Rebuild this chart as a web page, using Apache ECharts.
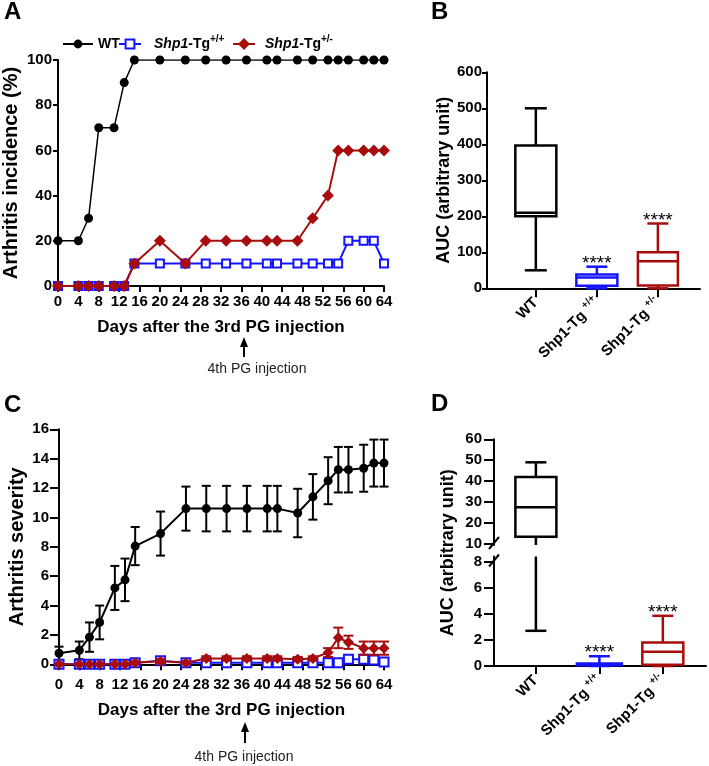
<!DOCTYPE html>
<html><head><meta charset="utf-8">
<script src="https://cdn.jsdelivr.net/npm/echarts@6/dist/echarts.min.js"></script>
<style>html,body{margin:0;padding:0;background:#fff}#c{width:709px;height:766px}</style>
</head><body><div id="c"></div>
<script>
// ---------- data ----------
const days = [0,4,6,8,11,13,15,20,25,29,33,37,41,43,47,50,53,55,57,60,62,64];
// Panel A: arthritis incidence (%)
const wtIncidence      = [20,20,30,70,70,90,100,100,100,100,100,100,100,100,100,100,100,100,100,100,100,100];
const tgHomoIncidence  = [0,0,0,0,0,0,10,10,10,10,10,10,10,10,10,10,10,10,20,20,20,10];
const tgHetIncidence   = [0,0,0,0,0,0,10,20,10,20,20,20,20,20,20,30,40,60,60,60,60,60];
// Panel C: arthritis severity (mean, error)
const wtSeverity     = [0.75,0.95,1.85,2.85,5.2,5.75,8.05,8.9,10.6,10.6,10.6,10.6,10.6,10.6,10.3,11.4,12.5,13.25,13.25,13.35,13.7,13.7];
const wtSeverityErr  = [0.45,0.6,1.0,1.15,1.5,1.45,1.3,1.5,1.5,1.55,1.55,1.55,1.55,1.55,1.65,1.55,1.6,1.55,1.55,1.6,1.6,1.6];
const hetSeverity    = [0,0,0,0,0,0,0.1,0.2,0.1,0.4,0.4,0.4,0.4,0.4,0.35,0.4,0.8,1.8,1.5,1.1,1.1,1.1];
const hetSeverityErr = [0,0,0,0,0,0,0.1,0.15,0.1,0.15,0.15,0.15,0.15,0.15,0.15,0.15,0.3,0.7,0.45,0.45,0.45,0.45];
const homoSeverity   = [0,0,0,0,0,0,0.1,0.25,0.1,0.1,0.1,0.1,0.1,0.1,0.1,0.1,0.1,0.1,0.35,0.35,0.3,0.15];
const homoSeverityErr= [0,0,0,0,0,0,0.1,0.15,0.1,0.1,0.1,0.1,0.1,0.1,0.1,0.1,0.1,0.1,0.2,0.2,0.2,0.1];
// Panels B and D: box plots [min, Q1, median, Q3, max]
const groupLabels = ['WT', 'Shp1-Tg +/+', 'Shp1-Tg +/-'];
const aucIncidenceWT   = [50, 200, 210, 397, 500];
const aucIncidenceHomo = [0, 7, 30, 38, 60];
const aucIncidenceHet  = [0, 8, 75, 100, 180];
const aucSeverityWT    = [2.7, 13.5, 27.5, 42, 49];
const aucSeverityHomo  = [0, 0.05, 0.1, 0.2, 0.75];
const aucSeverityHet   = [0, 0.1, 1.1, 1.8, 3.85];
const sigMarks = ['', '****', '****'];
const breakLowerTicks = [0, 2, 4, 6, 8];
const breakUpperTicks = [10, 20, 30, 40, 50, 60];

// ---------- style ----------
const FONT = '"Liberation Sans", Arial, sans-serif';
const BLACK = '#000000', BLUE = '#1414ff', RED = '#a80d0d';
const chart = echarts.init(document.getElementById('c'), null, {renderer: 'canvas'});

const lbl = {color: BLACK, fontSize: 15, fontWeight: 'bold', fontFamily: FONT};
const axLine = {show: true, onZero: false, lineStyle: {color: BLACK, width: 2}};
const tick = (len) => ({show: true, inside: false, length: len, lineStyle: {color: BLACK, width: 2}});
const nameStyle = (sz) => ({color: BLACK, fontSize: sz, fontWeight: 'bold', fontFamily: FONT});

const richX = {
  b: {fontSize: 15, fontWeight: 'bold', fontFamily: FONT, color: BLACK, lineHeight: 20},
  s: {fontSize: 10, fontWeight: 'bold', fontFamily: FONT, color: BLACK, lineHeight: 10, verticalAlign: 'top'}
};
function catFormatter(v) {
  const t = groupLabels[Math.round(v)];
  if (t === undefined) return '';
  const parts = t.split(' ');
  return parts.length > 1 ? '{b|' + parts[0] + ' }{s|' + parts[1] + '}' : '{b|' + t + '}';
}

function boxRenderer(color, boxW, capW, marks) {
  return function (params, api) {
    const cs = params.coordSys;
    const top = cs.y, bot = cs.y + cs.height;
    const xi = api.value(0);
    const cx = api.coord([xi, 0])[0];
    const ys = [1, 2, 3, 4, 5].map(k => api.coord([xi, api.value(k)])[1]);
    const yMin = ys[0], yQ1 = ys[1], yMed = ys[2], yQ3 = ys[3], yMax = ys[4];
    const clamp = v => Math.max(top, Math.min(bot, v));
    const inR = v => v >= top - 0.5 && v <= bot + 0.5;
    const st = {stroke: color, lineWidth: 2.5, fill: null};
    const ch = [];
    const seg = (a, b) => {
      const ca = clamp(a), cb = clamp(b);
      if (Math.abs(ca - cb) > 0.5) ch.push({type: 'line', shape: {x1: cx, y1: ca, x2: cx, y2: cb}, style: st});
    };
    seg(yQ3, yMax); seg(yQ1, yMin);
    if (inR(yMax)) ch.push({type: 'line', shape: {x1: cx - capW / 2, y1: yMax, x2: cx + capW / 2, y2: yMax}, style: st});
    if (inR(yMin)) ch.push({type: 'line', shape: {x1: cx - capW / 2, y1: yMin, x2: cx + capW / 2, y2: yMin}, style: st});
    const bt = clamp(yQ3), bb = clamp(yQ1);
    if (bb - bt > 0.5) ch.push({type: 'rect', shape: {x: cx - boxW / 2, y: bt, width: boxW, height: bb - bt}, style: {stroke: color, lineWidth: 2.5, fill: '#ffffff'}});
    if (inR(yMed) && bb - bt > 0.5) ch.push({type: 'line', shape: {x1: cx - boxW / 2, y1: yMed, x2: cx + boxW / 2, y2: yMed}, style: st});
    const m = marks[Math.round(xi)];
    if (m && inR(yMax)) ch.push({type: 'text', style: {text: m, x: cx, y: yMax - 3, align: 'center', verticalAlign: 'middle', fontSize: 19, fontFamily: FONT, fill: BLACK}});
    return {type: 'group', children: ch};
  };
}
function errRenderer(color, half, lw) {
  return function (params, api) {
    const x = api.value(0), m = api.value(1), e = api.value(2);
    if (!(e > 0)) return null;
    const hi = api.coord([x, m + e]), lo = api.coord([x, m - e]);
    const st = {stroke: color, lineWidth: lw, fill: null};
    return {type: 'group', children: [
      {type: 'line', shape: {x1: hi[0], y1: hi[1], x2: lo[0], y2: lo[1]}, style: st},
      {type: 'line', shape: {x1: hi[0] - half, y1: hi[1], x2: hi[0] + half, y2: hi[1]}, style: st},
      {type: 'line', shape: {x1: lo[0] - half, y1: lo[1], x2: lo[0] + half, y2: lo[1]}, style: st}
    ]};
  };
}
const pairs = (ys) => days.map((d, i) => [d, ys[i]]);
const triples = (ys, es) => days.map((d, i) => [d, ys[i], es[i]]);

const richLegend = {
  i: {fontSize: 14, fontWeight: 'bold', fontStyle: 'italic', fontFamily: FONT, color: BLACK, lineHeight: 20},
  b: {fontSize: 14, fontWeight: 'bold', fontFamily: FONT, color: BLACK, lineHeight: 20},
  s: {fontSize: 10, fontWeight: 'bold', fontFamily: FONT, color: BLACK, lineHeight: 10, verticalAlign: 'top'}
};
function legendFmt(name) {
  if (name === 'WT') return '{b|WT}';
  const sup = name.slice(name.indexOf('Tg') + 2);
  return '{i|Shp1}{b|-Tg}{s|' + sup + '}';
}
const legendBase = (name, left, w, h, padLeft) => ({
  data: [name], left: left, top: 34, itemWidth: w, itemHeight: h, padding: 0, itemGap: 0,
  selectedMode: false, formatter: legendFmt,
  textStyle: {fontSize: 14, fontWeight: 'bold', fontFamily: FONT, color: BLACK, lineHeight: 20,
    padding: [0, 0, 0, padLeft], rich: richLegend}
});

const boxData = (arr, i) => [[i].concat(arr)];

const option = {
  animation: false,
  textStyle: {fontFamily: FONT},
  legend: [
    legendBase('WT', 62, 30, 11, 0),
    legendBase('Shp1-Tg+/+', 118, 22, 11, 8),
    legendBase('Shp1-Tg+/-', 232, 22, 15, 5)
  ],
  grid: [
    {left: 58, top: 60, width: 326, height: 226, outerBoundsMode: 'none'},
    {left: 487, top: 72.3, width: 213, height: 216, outerBoundsMode: 'none'},
    {left: 59, top: 429.3, width: 325, height: 235, outerBoundsMode: 'none'},
    {left: 494, top: 439.3, width: 212, height: 105.7, outerBoundsMode: 'none'},
    {left: 494, top: 556.5, width: 212, height: 109.5, outerBoundsMode: 'none'}
  ],
  xAxis: [
    {type: 'value', gridIndex: 0, min: 0, max: 64, interval: 4, axisLine: axLine, axisTick: tick(6),
     axisLabel: Object.assign({margin: 8}, lbl), splitLine: {show: false},
     name: 'Days after the 3rd PG injection', nameLocation: 'middle', nameGap: 33, nameTextStyle: nameStyle(17)},
    {type: 'value', gridIndex: 1, min: -0.8, max: 2.69, axisLine: axLine,
     axisTick: Object.assign(tick(9), {customValues: [0, 1, 2]}),
     axisLabel: Object.assign({margin: 12, rotate: 45, customValues: [0, 1, 2], formatter: catFormatter, rich: richX}, lbl),
     splitLine: {show: false}},
    {type: 'value', gridIndex: 2, min: 0, max: 64, interval: 4, axisLine: axLine, axisTick: tick(6),
     axisLabel: Object.assign({margin: 13}, lbl), splitLine: {show: false},
     name: 'Days after the 3rd PG injection', nameLocation: 'middle', nameGap: 38, nameTextStyle: nameStyle(17)},
    {type: 'value', gridIndex: 3, min: -0.66, max: 2.68, show: false, splitLine: {show: false}},
    {type: 'value', gridIndex: 4, min: -0.66, max: 2.68, axisLine: axLine,
     axisTick: Object.assign(tick(8), {customValues: [0, 1, 2]}),
     axisLabel: Object.assign({margin: 12, rotate: 45, customValues: [0, 1, 2], formatter: catFormatter, rich: richX}, lbl),
     splitLine: {show: false}}
  ],
  yAxis: [
    {type: 'value', gridIndex: 0, min: 0, max: 100, interval: 20, axisLine: axLine, axisTick: tick(5),
     axisLabel: Object.assign({margin: 6}, lbl), splitLine: {show: false},
     name: 'Arthritis incidence (%)', nameLocation: 'middle', nameGap: 37, nameTextStyle: nameStyle(20)},
    {type: 'value', gridIndex: 1, min: 0, max: 600, interval: 100, axisLine: axLine, axisTick: tick(5),
     axisLabel: Object.assign({margin: 5}, lbl), splitLine: {show: false},
     name: 'AUC (arbitrary unit)', nameLocation: 'middle', nameGap: 30, nameTextStyle: nameStyle(18)},
    {type: 'value', gridIndex: 2, min: 0, max: 16, interval: 2, axisLine: axLine, axisTick: tick(9),
     axisLabel: Object.assign({margin: 10}, lbl), splitLine: {show: false},
     name: 'Arthritis severity', nameLocation: 'middle', nameGap: 32, nameTextStyle: nameStyle(20)},
    {type: 'value', gridIndex: 3, min: 9.5, max: 60, axisLine: axLine,
     axisTick: Object.assign(tick(10), {customValues: breakUpperTicks}),
     axisLabel: Object.assign({margin: 12, customValues: breakUpperTicks}, lbl), splitLine: {show: false}},
    {type: 'value', gridIndex: 4, min: 0, max: 8.4, axisLine: axLine,
     axisTick: Object.assign(tick(10), {customValues: breakLowerTicks}),
     axisLabel: Object.assign({margin: 12, customValues: breakLowerTicks}, lbl), splitLine: {show: false}}
  ],
  series: [
    // Panel A
    {type: 'line', name: 'WT', xAxisIndex: 0, yAxisIndex: 0, data: pairs(wtIncidence), symbol: 'circle', symbolSize: 9,
     lineStyle: {color: BLACK, width: 1.5}, itemStyle: {color: BLACK}, z: 2},
    {type: 'line', name: 'Shp1-Tg+/+', xAxisIndex: 0, yAxisIndex: 0, data: pairs(tgHomoIncidence), symbol: 'rect', symbolSize: 8,
     lineStyle: {color: BLUE, width: 2}, itemStyle: {color: '#ffffff', borderColor: BLUE, borderWidth: 2}, z: 3},
    {type: 'line', name: 'Shp1-Tg+/-', xAxisIndex: 0, yAxisIndex: 0, data: pairs(tgHetIncidence), symbol: 'diamond', symbolSize: 12,
     lineStyle: {color: RED, width: 2}, itemStyle: {color: RED}, z: 4},
    // Panel C
    {type: 'custom', xAxisIndex: 2, yAxisIndex: 2, data: triples(wtSeverity, wtSeverityErr), encode: {x: 0, y: 1},
     renderItem: errRenderer(BLACK, 4.5, 2), z: 2, silent: true},
    {type: 'line', name: 'WT', xAxisIndex: 2, yAxisIndex: 2, data: pairs(wtSeverity), symbol: 'circle', symbolSize: 9,
     lineStyle: {color: BLACK, width: 2}, itemStyle: {color: BLACK}, z: 2},
    {type: 'custom', xAxisIndex: 2, yAxisIndex: 2, data: triples(homoSeverity, homoSeverityErr), encode: {x: 0, y: 1},
     renderItem: errRenderer(BLUE, 4.5, 2), z: 3, silent: true},
    {type: 'line', name: 'Shp1-Tg+/+', xAxisIndex: 2, yAxisIndex: 2, data: pairs(homoSeverity), symbol: 'rect', symbolSize: 9,
     lineStyle: {color: BLUE, width: 2}, itemStyle: {color: '#ffffff', borderColor: BLUE, borderWidth: 2}, z: 3},
    {type: 'custom', xAxisIndex: 2, yAxisIndex: 2, data: triples(hetSeverity, hetSeverityErr), encode: {x: 0, y: 1},
     renderItem: errRenderer(RED, 5, 2), z: 4, silent: true},
    {type: 'line', name: 'Shp1-Tg+/-', xAxisIndex: 2, yAxisIndex: 2, data: pairs(hetSeverity), symbol: 'diamond', symbolSize: 11,
     lineStyle: {color: RED, width: 2}, itemStyle: {color: RED}, z: 4},
    // Panel B
    {type: 'custom', xAxisIndex: 1, yAxisIndex: 1, data: boxData(aucIncidenceWT, 0), encode: {x: 0, y: [1, 2, 3, 4, 5]},
     renderItem: boxRenderer(BLACK, 41, 22, sigMarks), clip: false},
    {type: 'custom', xAxisIndex: 1, yAxisIndex: 1, data: boxData(aucIncidenceHomo, 1), encode: {x: 0, y: [1, 2, 3, 4, 5]},
     renderItem: boxRenderer(BLUE, 41, 21, sigMarks), clip: false},
    {type: 'custom', xAxisIndex: 1, yAxisIndex: 1, data: boxData(aucIncidenceHet, 2), encode: {x: 0, y: [1, 2, 3, 4, 5]},
     renderItem: boxRenderer(RED, 40, 21, sigMarks), clip: false},
    // Panel D (upper and lower segments of a broken axis)
    {type: 'custom', xAxisIndex: 3, yAxisIndex: 3, data: boxData(aucSeverityWT, 0), encode: {x: 0, y: [1, 2, 3, 4, 5]},
     renderItem: boxRenderer(BLACK, 41, 21, sigMarks), clip: false},
    {type: 'custom', xAxisIndex: 4, yAxisIndex: 4, data: boxData(aucSeverityWT, 0), encode: {x: 0, y: [1, 2, 3, 4, 5]},
     renderItem: boxRenderer(BLACK, 41, 21, sigMarks), clip: false},
    {type: 'custom', xAxisIndex: 4, yAxisIndex: 4, data: boxData(aucSeverityHomo, 1), encode: {x: 0, y: [1, 2, 3, 4, 5]},
     renderItem: boxRenderer(BLUE, 45, 21, sigMarks), clip: false},
    {type: 'custom', xAxisIndex: 4, yAxisIndex: 4, data: boxData(aucSeverityHet, 2), encode: {x: 0, y: [1, 2, 3, 4, 5]},
     renderItem: boxRenderer(RED, 41, 21, sigMarks), clip: false}
  ]
};
chart.setOption(option);

// annotations: panel letters, arrows, D axis title, axis-break marks
const up = chart.convertToPixel({xAxisIndex: 3, yAxisIndex: 3}, [-0.66, 9.5]);
const lo = chart.convertToPixel({xAxisIndex: 4, yAxisIndex: 4}, [-0.66, 8.4]);
const letter = (t, x, y) => ({type: 'text', x: x, y: y, style: {text: t, font: 'bold 24px ' + FONT, fill: BLACK, align: 'left', verticalAlign: 'top'}});
const arrow = (x, y0, y1) => ({type: 'group', children: [
  {type: 'line', shape: {x1: x, y1: y0 + 9, x2: x, y2: y1}, style: {stroke: BLACK, lineWidth: 2}},
  {type: 'polygon', shape: {points: [[x, y0], [x - 4, y0 + 10], [x + 4, y0 + 10]]}, style: {fill: BLACK}}
]});
const note = (x, y) => ({type: 'text', x: x, y: y, style: {text: '4th PG injection', font: '14px ' + FONT, fill: '#222', align: 'center', verticalAlign: 'middle'}});
const slash = (x, y) => ({type: 'line', shape: {x1: x - 5, y1: y + 6, x2: x + 5, y2: y - 6}, style: {stroke: BLACK, lineWidth: 2}});
chart.setOption({graphic: [
  letter('A', 4, 0), letter('B', 431, 0), letter('C', 4, 393), letter('D', 431, 392),
  arrow(244, 337, 357), note(257, 369),
  arrow(245, 722, 743), note(244, 757),
  {type: 'text', x: 448, y: (up[1] + lo[1]) / 2 + 2, rotation: Math.PI / 2,
   style: {text: 'AUC (arbitrary unit)', font: 'bold 18px ' + FONT, fill: BLACK, align: 'center', verticalAlign: 'middle'}},
  slash(up[0], up[1] - 2), slash(lo[0], lo[1] + 4)
]});
</script></body></html>
